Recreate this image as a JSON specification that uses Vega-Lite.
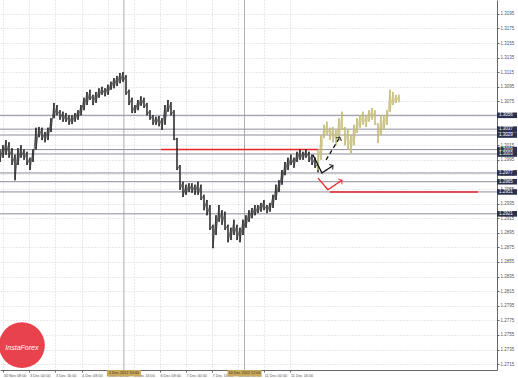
{
  "$schema": "https://vega.github.io/schema/vega-lite/v6.json",
  "width": 497,
  "height": 370,
  "autosize": {"type": "none"},
  "padding": {"left": 0, "top": 0, "right": 21, "bottom": 8},
  "background": "white",
  "config": {
    "view": {"stroke": null},
    "font": "Liberation Sans",
    "axis": {"labelFont": "Liberation Sans", "labelColor": "#555", "domainColor": "#666", "tickColor": "#666", "gridColor": "#bbb", "gridDash": [1, 2], "gridWidth": 0.6, "labelOverlap": false}
  },
  "datasets": {
    "candles": [
      {"n":0,"hi":1.3009,"lo":1.2992},{"n":1,"hi":1.3015,"lo":1.2998},{"n":2,"hi":1.3022,"lo":1.3002},{"n":3,"hi":1.3019,"lo":1.2998},
      {"n":4,"hi":1.3011,"lo":1.2988},{"n":5,"hi":1.3002,"lo":1.2967},{"n":6,"hi":1.3011,"lo":1.2988},{"n":7,"hi":1.3015,"lo":1.2998},
      {"n":8,"hi":1.3009,"lo":1.2995},{"n":9,"hi":1.3006,"lo":1.2988},{"n":10,"hi":1.2998,"lo":1.2981},{"n":11,"hi":1.3009,"lo":1.2992},
      {"n":12,"hi":1.3039,"lo":1.3009},{"n":13,"hi":1.3040,"lo":1.3026},{"n":14,"hi":1.3039,"lo":1.3022},{"n":15,"hi":1.3033,"lo":1.3019},
      {"n":16,"hi":1.3039,"lo":1.3022},{"n":17,"hi":1.3052,"lo":1.3033},{"n":18,"hi":1.3073,"lo":1.3052},{"n":19,"hi":1.3070,"lo":1.3056},
      {"n":20,"hi":1.3063,"lo":1.3050},{"n":21,"hi":1.3061,"lo":1.3047},{"n":22,"hi":1.3059,"lo":1.3047},{"n":23,"hi":1.3056,"lo":1.3043},
      {"n":24,"hi":1.3056,"lo":1.3044},{"n":25,"hi":1.3059,"lo":1.3047},{"n":26,"hi":1.3063,"lo":1.3050},{"n":27,"hi":1.3070,"lo":1.3056},
      {"n":28,"hi":1.3080,"lo":1.3063},{"n":29,"hi":1.3088,"lo":1.3070},{"n":30,"hi":1.3091,"lo":1.3077},{"n":31,"hi":1.3084,"lo":1.3070},
      {"n":32,"hi":1.3088,"lo":1.3073},{"n":33,"hi":1.3093,"lo":1.3080},{"n":34,"hi":1.3095,"lo":1.3084},{"n":35,"hi":1.3093,"lo":1.3082},
      {"n":36,"hi":1.3098,"lo":1.3084},{"n":37,"hi":1.3102,"lo":1.3091},{"n":38,"hi":1.3107,"lo":1.3093},{"n":39,"hi":1.3110,"lo":1.3096},
      {"n":40,"hi":1.3114,"lo":1.3100},{"n":41,"hi":1.3115,"lo":1.3102},{"n":42,"hi":1.3111,"lo":1.3084},{"n":43,"hi":1.3091,"lo":1.3070},
      {"n":44,"hi":1.3080,"lo":1.3059},{"n":45,"hi":1.3070,"lo":1.3059},{"n":46,"hi":1.3077,"lo":1.3063},{"n":47,"hi":1.3082,"lo":1.3069},
      {"n":48,"hi":1.3080,"lo":1.3066},{"n":49,"hi":1.3073,"lo":1.3056},{"n":50,"hi":1.3063,"lo":1.3050},{"n":51,"hi":1.3056,"lo":1.3043},
      {"n":52,"hi":1.3054,"lo":1.3043},{"n":53,"hi":1.3055,"lo":1.3041},{"n":54,"hi":1.3052,"lo":1.3036},{"n":55,"hi":1.3070,"lo":1.3043},
      {"n":56,"hi":1.3077,"lo":1.3061},{"n":57,"hi":1.3074,"lo":1.3056},{"n":58,"hi":1.3063,"lo":1.3022},{"n":59,"hi":1.3025,"lo":1.2981},
      {"n":60,"hi":1.2988,"lo":1.2954},{"n":61,"hi":1.2965,"lo":1.2944},{"n":62,"hi":1.2961,"lo":1.2947},{"n":63,"hi":1.2963,"lo":1.2951},
      {"n":64,"hi":1.2963,"lo":1.2950},{"n":65,"hi":1.2961,"lo":1.2947},{"n":66,"hi":1.2965,"lo":1.2947},{"n":67,"hi":1.2961,"lo":1.2940},
      {"n":68,"hi":1.2947,"lo":1.2926},{"n":69,"hi":1.2940,"lo":1.2919},{"n":70,"hi":1.2933,"lo":1.2899},{"n":71,"hi":1.2906,"lo":1.2874},
      {"n":72,"hi":1.2919,"lo":1.2892},{"n":73,"hi":1.2933,"lo":1.2910},{"n":74,"hi":1.2926,"lo":1.2906},{"n":75,"hi":1.2924,"lo":1.2899},
      {"n":76,"hi":1.2906,"lo":1.2882},{"n":77,"hi":1.2902,"lo":1.2885},{"n":78,"hi":1.2913,"lo":1.2892},{"n":79,"hi":1.2906,"lo":1.2885},
      {"n":80,"hi":1.2902,"lo":1.2882},{"n":81,"hi":1.2913,"lo":1.2892},{"n":82,"hi":1.2919,"lo":1.2902},{"n":83,"hi":1.2926,"lo":1.2910},
      {"n":84,"hi":1.2929,"lo":1.2915},{"n":85,"hi":1.2933,"lo":1.2919},{"n":86,"hi":1.2933,"lo":1.2922},{"n":87,"hi":1.2936,"lo":1.2924},
      {"n":88,"hi":1.2940,"lo":1.2926},{"n":89,"hi":1.2933,"lo":1.2922},{"n":90,"hi":1.2936,"lo":1.2924},{"n":91,"hi":1.2947,"lo":1.2929},
      {"n":92,"hi":1.2961,"lo":1.2940},{"n":93,"hi":1.2967,"lo":1.2951},{"n":94,"hi":1.2981,"lo":1.2961},{"n":95,"hi":1.2992,"lo":1.2974},
      {"n":96,"hi":1.2998,"lo":1.2981},{"n":97,"hi":1.3002,"lo":1.2988},{"n":98,"hi":1.2998,"lo":1.2984},{"n":99,"hi":1.3006,"lo":1.2992},
      {"n":100,"hi":1.3009,"lo":1.2995},{"n":101,"hi":1.3006,"lo":1.2995},{"n":102,"hi":1.3009,"lo":1.2998},{"n":103,"hi":1.3006,"lo":1.2992},
      {"n":104,"hi":1.3002,"lo":1.2988},{"n":105,"hi":1.2998,"lo":1.2984},{"n":106,"hi":1.2991,"lo":1.2978}
    ],
    "forecast": [
      {"n":106,"hi":1.3009,"lo":1.2981},{"n":107,"hi":1.3029,"lo":1.2995},{"n":108,"hi":1.3043,"lo":1.3025},{"n":109,"hi":1.3047,"lo":1.3029},
      {"n":110,"hi":1.3039,"lo":1.3022},{"n":111,"hi":1.3040,"lo":1.3019},{"n":112,"hi":1.3036,"lo":1.3015},{"n":113,"hi":1.3052,"lo":1.3022},
      {"n":114,"hi":1.3061,"lo":1.3036},{"n":115,"hi":1.3040,"lo":1.3015},{"n":116,"hi":1.3036,"lo":1.3009},{"n":117,"hi":1.3029,"lo":1.3004},
      {"n":118,"hi":1.3043,"lo":1.3015},{"n":119,"hi":1.3052,"lo":1.3032},{"n":120,"hi":1.3056,"lo":1.3039},{"n":121,"hi":1.3061,"lo":1.3043},
      {"n":122,"hi":1.3056,"lo":1.3040},{"n":123,"hi":1.3063,"lo":1.3047},{"n":124,"hi":1.3066,"lo":1.3050},{"n":125,"hi":1.3063,"lo":1.3043},
      {"n":126,"hi":1.3045,"lo":1.3018},{"n":127,"hi":1.3056,"lo":1.3029},{"n":128,"hi":1.3056,"lo":1.3036},{"n":129,"hi":1.3063,"lo":1.3043},
      {"n":130,"hi":1.3091,"lo":1.3061},{"n":131,"hi":1.3088,"lo":1.3070},{"n":132,"hi":1.3084,"lo":1.3073},{"n":133,"hi":1.3084,"lo":1.3074}
    ],
    "levels": [
      {"p":1.3056},{"p":1.3037},{"p":1.3029},{"p":1.3009},{"p":1.3003},{"p":1.2977},{"p":1.2965},{"p":1.2951},{"p":1.2921}
    ],
    "separators": [{"n":41.3,"label":"5 Dec 2012 10:00"},{"n":81.5,"label":"10 Dec 2012 12:00"}],
    "redlines": [
      {"n":53.7,"n2":106,"p":1.3009},
      {"n":110,"n2":159.3,"p":1.2951}
    ],
    "arrows": [
      {"id":"a","n":104.3,"p":1.3002},{"id":"a","n":107.3,"p":1.2977},{"id":"a","n":111,"p":1.2987},
      {"id":"b","n":108.7,"p":1.2995},{"id":"b","n":113.3,"p":1.3026},
      {"id":"c","n":106,"p":1.2970},{"id":"c","n":109.3,"p":1.2954},{"id":"c","n":114,"p":1.2967}
    ],
    "heads": [
      {"id":"a","n":111,"p":1.2987,"ang":58},
      {"id":"b","n":113.3,"p":1.3026,"ang":30},
      {"id":"c","n":114,"p":1.2967,"ang":55}
    ]
  },
  "layer": [
    {
      "data": {"name": "levels"},
      "mark": {"type": "rule", "color": "#8c8c9c", "strokeWidth": 1},
      "encoding": {
        "y": {"field": "p", "type": "quantitative", "scale": {"domain": [1.2707, 1.3214], "nice": false, "zero": false},
          "axis": {"orient": "right", "title": null, "tickCount": 40, "values": [1.2715,1.2735,1.2755,1.2775,1.2795,1.2815,1.2835,1.2855,1.2875,1.2895,1.2915,1.2935,1.2955,1.2975,1.2995,1.3015,1.3035,1.3055,1.3075,1.3095,1.3115,1.3135,1.3155,1.3175,1.3195], "format": ".4f", "labelFontSize": 4.5, "tickSize": 2, "labelPadding": 1, "labelOverlap": false, "labelBound": false, "labelFlush": false}}
      }
    },
    {
      "data": {"name": "separators"},
      "mark": {"type": "rule", "color": "#9a9a9a", "strokeWidth": 0.8},
      "encoding": {
        "x": {"field": "n", "type": "quantitative", "scale": {"domain": [0, 165.67], "nice": false, "zero": false},
          "axis": {"title": null, "tickCount": 30, "values": [1.1, 9.8, 18.5, 27.2, 35.9, 44.6, 53.3, 62.0, 70.7, 79.4, 88.1, 96.8], "labelExpr": "['30 Nov 08:00','3 Dec 00:00','3 Dec 16:00','4 Dec 08:00','5 Dec 00:00','5 Dec 16:00','6 Dec 08:00','7 Dec 00:00','7 Dec 16:00','10 Dec 08:00','11 Dec 00:00','11 Dec 16:00'][round((datum.value-1.1)/8.7)]", "labelAlign": "left", "labelFontSize": 3.8, "tickSize": 2, "labelPadding": 1, "labelOverlap": false, "labelFlush": false}}
      }
    },
    {
      "data": {"name": "redlines"},
      "mark": {"type": "rule", "color": "#e8262a", "strokeWidth": 1.5},
      "encoding": {
        "x": {"field": "n", "type": "quantitative"},
        "x2": {"field": "n2"},
        "y": {"field": "p", "type": "quantitative"}
      }
    },
    {
      "data": {"name": "candles"},
      "layer": [
        {"mark": {"type": "rule", "color": "#1a1a1a", "strokeWidth": 1.2},
          "encoding": {"x": {"field": "n", "type": "quantitative"}, "y": {"field": "lo", "type": "quantitative"}, "y2": {"field": "hi"}}},
        {"transform": [{"fold": ["hi", "lo"], "as": ["k", "v"]}],
          "mark": {"type": "line", "color": "#2a2a2a", "strokeWidth": 0.7},
          "encoding": {"x": {"field": "n", "type": "quantitative"}, "y": {"field": "v", "type": "quantitative"}}}
      ]
    },
    {
      "data": {"name": "forecast"},
      "layer": [
        {"mark": {"type": "rule", "color": "#bdb46a", "strokeWidth": 1.2},
          "encoding": {"x": {"field": "n", "type": "quantitative"}, "y": {"field": "lo", "type": "quantitative"}, "y2": {"field": "hi"}}},
        {"transform": [{"fold": ["hi", "lo"], "as": ["k", "v"]}],
          "mark": {"type": "line", "color": "#c4bc76", "strokeWidth": 0.7},
          "encoding": {"x": {"field": "n", "type": "quantitative"}, "y": {"field": "v", "type": "quantitative"}}}
      ]
    },
    {
      "data": {"name": "arrows"},
      "mark": {"type": "line", "strokeWidth": 1.3},
      "encoding": {
        "x": {"field": "n", "type": "quantitative"},
        "y": {"field": "p", "type": "quantitative"},
        "detail": {"field": "id"},
        "color": {"field": "id", "type": "nominal", "scale": {"domain": ["a","b","c"], "range": ["#111111","#111111","#e8262a"]}, "legend": null},
        "strokeDash": {"field": "id", "type": "nominal", "scale": {"domain": ["a","b","c"], "range": [[1,0],[4,3],[1,0]]}, "legend": null}
      }
    },
    {
      "data": {"name": "heads"},
      "mark": {"type": "point", "shape": "M-1,0.8L0,0L1,0.8", "filled": false, "strokeWidth": 1.3, "size": 40},
      "encoding": {
        "x": {"field": "n", "type": "quantitative"},
        "y": {"field": "p", "type": "quantitative"},
        "angle": {"field": "ang", "type": "quantitative", "scale": null},
        "stroke": {"field": "id", "type": "nominal", "scale": {"domain": ["a","b","c"], "range": ["#111111","#111111","#e8262a"]}, "legend": null}
      }
    },
    {
      "data": {"name": "levels"},
      "mark": {"type": "point", "shape": "M0,-0.14L1,-0.14L1,0.14L0,0.14Z", "filled": true, "color": "#2b3150", "opacity": 1, "size": 1600},
      "encoding": {
        "x": {"datum": 165.67, "type": "quantitative"},
        "y": {"field": "p", "type": "quantitative"}
      }
    },
    {
      "data": {"name": "levels"},
      "mark": {"type": "text", "align": "left", "baseline": "middle", "dx": 2, "fontSize": 4.5, "color": "#ffffff"},
      "encoding": {
        "x": {"datum": 165.67, "type": "quantitative"},
        "y": {"field": "p", "type": "quantitative"},
        "text": {"field": "p", "type": "quantitative", "format": ".4f"}
      }
    },
    {
      "data": {"name": "separators"},
      "layer": [
        {"mark": {"type": "point", "shape": "M-1,-0.19L1,-0.19L1,0.19L-1,0.19Z", "filled": true, "color": "#c9a95c", "opacity": 1, "size": 1160},
          "encoding": {"x": {"field": "n", "type": "quantitative"}, "y": {"datum": 1.27025, "type": "quantitative"}}},
        {"mark": {"type": "text", "fontSize": 3.8, "color": "#3a3020", "baseline": "middle"},
          "encoding": {"x": {"field": "n", "type": "quantitative"}, "y": {"datum": 1.27025, "type": "quantitative"}, "text": {"field": "label"}}}
      ]
    },
    {
      "data": {"values": [{"n": 7.3, "p": 1.2741, "label": "InstaForex"}]},
      "layer": [
        {
          "mark": {"type": "point", "shape": "circle", "filled": true, "color": "#e8434c", "opacity": 1, "size": 2100},
          "encoding": {"x": {"field": "n", "type": "quantitative"}, "y": {"field": "p", "type": "quantitative"}}
        },
        {
          "mark": {"type": "text", "color": "white", "fontSize": 7, "fontStyle": "italic", "dy": 3},
          "encoding": {"x": {"field": "n", "type": "quantitative"}, "y": {"field": "p", "type": "quantitative"}, "text": {"field": "label"}}
        }
      ]
    }
  ]
}
